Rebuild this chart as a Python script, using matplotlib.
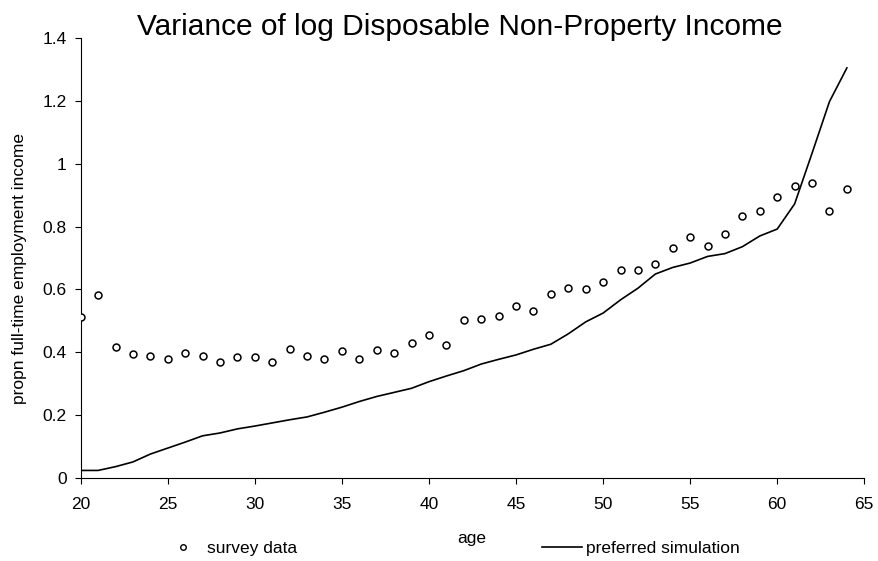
import matplotlib
matplotlib.use("Agg")
import matplotlib.pyplot as plt
from matplotlib.lines import Line2D

plt.rcParams['font.family'] = ['Liberation Sans', 'DejaVu Sans']

ages = list(range(20, 65))
survey = [0.512, 0.583, 0.417, 0.394, 0.389, 0.379, 0.398, 0.389, 0.370, 0.385,
          0.385, 0.370, 0.412, 0.389, 0.379, 0.404, 0.379, 0.408, 0.397, 0.431,
          0.455, 0.422, 0.502, 0.506, 0.516, 0.549, 0.531, 0.587, 0.606, 0.601,
          0.625, 0.663, 0.663, 0.681, 0.733, 0.767, 0.738, 0.777, 0.833, 0.848,
          0.895, 0.928, 0.937, 0.848, 0.918]
simulation = [0.025, 0.025, 0.037, 0.052, 0.077, 0.096, 0.115, 0.135, 0.144, 0.157,
              0.166, 0.176, 0.186, 0.195, 0.210, 0.226, 0.244, 0.260, 0.273, 0.286,
              0.307, 0.325, 0.342, 0.363, 0.378, 0.392, 0.410, 0.426, 0.459, 0.497,
              0.525, 0.567, 0.604, 0.649, 0.670, 0.684, 0.705, 0.714, 0.736, 0.770,
              0.792, 0.872, 1.033, 1.197, 1.304]
xticks = [20, 25, 30, 35, 40, 45, 50, 55, 60, 65]
yticks = [0, 0.2, 0.4, 0.6, 0.8, 1.0, 1.2, 1.4]
ytick_labels = ['0', '0.2', '0.4', '0.6', '0.8', '1', '1.2', '1.4']

W, H = 879, 561
fig = plt.figure(figsize=(W / 100, H / 100), dpi=100)
left, right, top, bottom = 80.7, 864.3, 37.7, 478.3
ax = fig.add_axes([left / W, 1 - bottom / H, (right - left) / W, (bottom - top) / H])

ax.plot(ages, survey, linestyle='none', marker='o', markersize=5,
        markerfacecolor='white', markeredgecolor='black', markeredgewidth=1.1,
        zorder=3)
ax.plot(ages, simulation, color='black', linewidth=1.2, zorder=2)

ax.set_xlim(20, 65)
ax.set_ylim(0, 1.4)
ax.set_xticks(xticks)
ax.set_yticks(yticks)
ax.set_yticklabels(ytick_labels)
ax.tick_params(direction='out', width=0.8, labelsize=12.5)
ax.tick_params(axis='y', length=4.5, pad=5.5)
ax.tick_params(axis='x', length=4, pad=9.5)
for s in ['top', 'right']:
    ax.spines[s].set_visible(False)
for s in ['left', 'bottom']:
    ax.spines[s].set_linewidth(0.8)

fig.text(460 / W, 1 - 35 / H, 'Variance of log Disposable Non-Property Income',
         fontsize=21.5, ha='center', va='baseline')
fig.text(20 / W, 1 - 268 / H, 'propn full-time employment income',
         fontsize=12.5, rotation=90, ha='center', va='center')
fig.text(472 / W, 1 - 539 / H, 'age', fontsize=12.5, ha='center', va='center')

h_survey = Line2D([], [], linestyle='none', marker='o', markersize=4,
                  markerfacecolor='white', markeredgecolor='black', markeredgewidth=1.0)
h_sim = Line2D([], [], color='black', linewidth=1.2)
common = dict(loc='center left', frameon=False, fontsize=12.5, handlelength=2.3,
              handletextpad=0.25, borderaxespad=0, borderpad=0)
fig.legend([h_survey], ['survey data'], bbox_to_anchor=(163 / W, 1 - 548 / H), **common)
fig.legend([h_sim], ['preferred simulation'], bbox_to_anchor=(542 / W, 1 - 548 / H), **common)

fig.savefig('out.png', dpi=100)
